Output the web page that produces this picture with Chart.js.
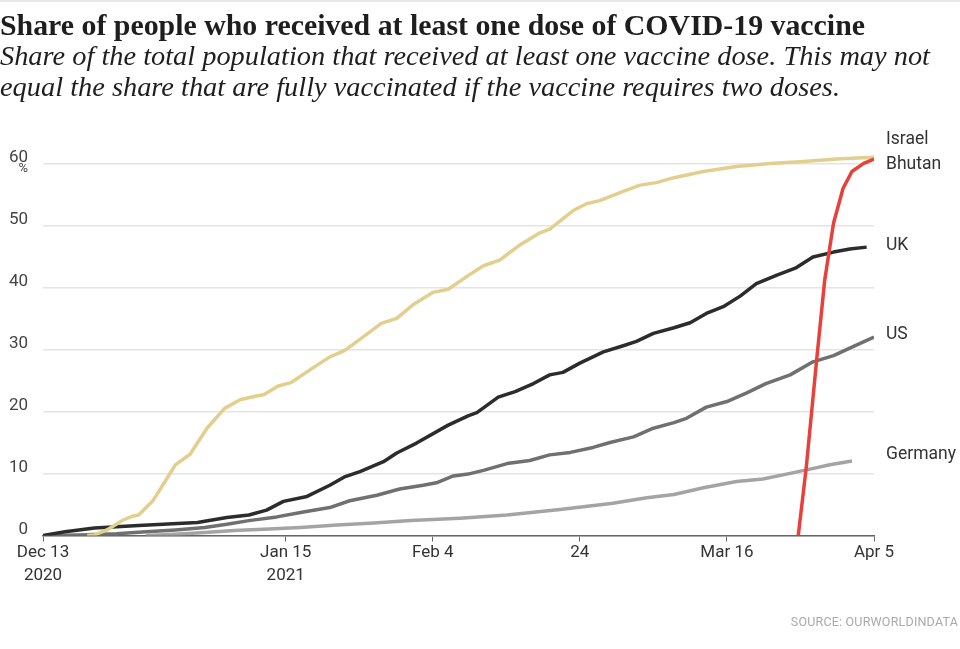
<!DOCTYPE html>
<html>
<head>
<meta charset="utf-8">
<title>Share of people who received at least one dose of COVID-19 vaccine</title>
<script src="https://cdn.jsdelivr.net/npm/chart.js@4.4.0/dist/chart.umd.min.js"></script>
<style>
  body { margin: 0; background: #fff; }
  #page { position: relative; width: 960px; height: 649px; overflow: hidden; }
  #topbar { position: absolute; left: 0; top: 0; width: 960px; height: 2px; background: #e8e8e8; }
  #mychart { position: absolute; left: 0; top: 0; }
  .head { position: absolute; left: 0; white-space: nowrap; color: #1e1e1e; font-family: "Liberation Serif", serif; transform-origin: 0 0; }
  #title { top: 10px; font-size: 30px; line-height: 30px; font-weight: bold; }
  .sub { font-size: 28px; line-height: 31.7px; font-style: italic; }
  #sub1 { top: 39.7px; }
  #sub2 { top: 71.4px; }
  #source { position: absolute; right: 2px; top: 614px; font-family: Roboto, sans-serif; font-size: 12.5px; color: #aaa; letter-spacing: 0.2px; }
</style>
</head>
<body>
<div id="page">
  <div id="topbar"></div>
  <canvas id="mychart" width="960" height="649"></canvas>
  <div id="title" class="head" data-w="865">Share of people who received at least one dose of COVID-19 vaccine</div>
  <div id="sub1" class="head sub" data-w="930">Share of the total population that received at least one vaccine dose. This may not</div>
  <div id="sub2" class="head sub" data-w="840">equal the share that are fully vaccinated if the vaccine requires two doses.</div>
  <div id="source">SOURCE: OURWORLDINDATA</div>
</div>

<script type="text/javascript">

	// days counted from Dec 13 2020, values in % of population
	const israelDays = [6, 7, 8.7, 10.9, 12.1, 13, 15, 16.6, 18, 20, 22.3, 24.7, 26.8, 29, 30, 32, 33.8, 36.3, 39, 41, 43.5, 46, 48.1, 50.3, 53, 55.1, 57.8, 59.9, 62.1, 64.9, 67.4, 68.9, 72.1, 73.9, 75.7, 78.9, 81.2, 83.4, 85.8, 89.8, 94.3, 98.9, 103.4, 107.9, 113];
	const israelShare = [0, 0.1, 0.9, 2.5, 3.1, 3.3, 5.7, 8.7, 11.4, 13.1, 17.3, 20.5, 21.9, 22.5, 22.7, 24.1, 24.7, 26.7, 28.8, 29.8, 32, 34.2, 35, 37.2, 39.2, 39.7, 41.9, 43.5, 44.4, 46.9, 48.7, 49.4, 52.4, 53.5, 54, 55.5, 56.5, 56.9, 57.7, 58.7, 59.5, 60, 60.3, 60.7, 61];

	const bhutanDays = [102.7, 103.8, 105.2, 106.3, 107.5, 108.8, 110, 111.6, 113];
	const bhutanShare = [0, 11.1, 28.3, 41.2, 50.4, 56, 58.7, 60, 60.7];

	const ukDays = [0, 3, 7, 13, 21, 25, 28, 30.4, 32.7, 35.9, 39, 41.1, 43.1, 46.3, 48.1, 50.8, 55.1, 57.8, 59, 61.9, 64.2, 66.7, 68.9, 70.7, 73, 76.2, 78.9, 80.7, 83, 85.8, 88, 90.2, 92.5, 94.8, 97, 99.8, 102.3, 104.7, 107.5, 109.7, 112];
	const ukShare = [0, 0.6, 1.2, 1.6, 2.1, 2.9, 3.3, 4.1, 5.5, 6.3, 8.1, 9.5, 10.3, 11.9, 13.3, 14.9, 17.8, 19.3, 19.8, 22.3, 23.2, 24.5, 25.9, 26.3, 27.8, 29.6, 30.6, 31.3, 32.6, 33.5, 34.3, 35.8, 36.9, 38.6, 40.6, 42, 43.1, 44.9, 45.7, 46.2, 46.5];

	const usDays = [1, 5, 10, 14, 18, 22, 25, 28, 31.8, 35.4, 39, 41.7, 45.4, 48.5, 51.7, 53.5, 55.8, 57.8, 59.9, 63.1, 66.2, 68.9, 71.7, 74.8, 77.1, 80.3, 83, 85.8, 87.5, 90.2, 93, 95.7, 98.3, 101.6, 104.7, 107.5, 109.7, 113];
	const usShare = [0, 0.1, 0.3, 0.6, 0.9, 1.3, 1.8, 2.4, 3, 3.8, 4.5, 5.6, 6.5, 7.5, 8.1, 8.5, 9.6, 9.9, 10.5, 11.6, 12.1, 13, 13.4, 14.2, 15, 15.9, 17.3, 18.2, 18.9, 20.7, 21.6, 23, 24.5, 25.9, 28, 29, 30.2, 32];

	const germanyDays = [14, 18, 22, 26, 30, 35, 40, 45, 50, 56.7, 63.1, 70.3, 77.5, 82.1, 85.8, 89.8, 94.3, 97.9, 101.1, 104.3, 107, 110];
	const germanyShare = [0, 0.2, 0.5, 0.8, 1, 1.3, 1.7, 2, 2.4, 2.8, 3.3, 4.2, 5.2, 6.1, 6.6, 7.7, 8.7, 9.1, 9.9, 10.7, 11.4, 12];

	const xTickDays = [0, 33, 53, 73, 93, 113];
	const xTickLabels = [['Dec 13', '2020'], ['Jan 15', '2021'], 'Feb 4', '24', 'Mar 16', 'Apr 5'];
	const yTickValues = [0, 10, 20, 30, 40, 50, 60];

	function toPoints(days, vals) {
		return days.map((d, i) => ({ x: d, y: vals[i] }));
	}

	// stretch the serif headings to the widths they have in the source layout
	document.querySelectorAll('.head').forEach(el => {
		const w = el.getBoundingClientRect().width;
		el.style.transform = 'scaleX(' + (parseFloat(el.dataset.w) / w) + ')';
	});

	const endLabels = {
		id: 'endLabels',
		afterDatasetsDraw(chart, args, opts) {
			const ctx = chart.ctx;
			const area = chart.chartArea;
			ctx.save();
			ctx.font = '17.5px Roboto';
			ctx.fillStyle = '#333';
			ctx.textBaseline = 'middle';
			ctx.textAlign = 'left';
			chart.data.datasets.forEach((ds, i) => {
				const pts = chart.getDatasetMeta(i).data;
				const last = pts[pts.length - 1];
				ctx.fillText(ds.label, area.right + 12, last.y + (opts.nudge[ds.label] || 0));
			});
			// unit under the top tick label
			const ys = chart.scales.y;
			ctx.font = '13px Roboto';
			ctx.fillStyle = '#444';
			ctx.textAlign = 'right';
			ctx.fillText('%', ys.right - 15, ys.getPixelForValue(60) + 5);
			ctx.restore();
		}
	};

	Chart.defaults.font.family = 'Roboto';
	Chart.defaults.color = '#444';

	const ctx = document.getElementById('mychart').getContext('2d');
	const myChart = new Chart(ctx, {
		type: 'line',
		data: {
			datasets: [
				{ label: 'Bhutan', data: toPoints(bhutanDays, bhutanShare), borderColor: '#e8403a' },
				{ label: 'Israel', data: toPoints(israelDays, israelShare), borderColor: '#e3cf8d' },
				{ label: 'UK', data: toPoints(ukDays, ukShare), borderColor: '#2c2c2c' },
				{ label: 'US', data: toPoints(usDays, usShare), borderColor: '#707070' },
				{ label: 'Germany', data: toPoints(germanyDays, germanyShare), borderColor: '#a4a4a4' }
			]
		},
		options: {
			responsive: false,
			animation: false,
			devicePixelRatio: 1,
			layout: { padding: { top: 151, right: 86, bottom: 53.5, left: 0 } },
			elements: {
				line: { borderWidth: 3.5, tension: 0, fill: false, borderJoinStyle: 'round', borderCapStyle: 'butt' },
				point: { radius: 0, hoverRadius: 0 }
			},
			plugins: {
				legend: { display: false },
				tooltip: { enabled: false },
				endLabels: { nudge: { Israel: -18, Bhutan: 6, UK: -2, US: -2, Germany: -6 } }
			},
			scales: {
				x: {
					type: 'linear',
					min: 0,
					max: 113,
					afterBuildTicks: scale => { scale.ticks = xTickDays.map(v => ({ value: v })); },
					afterFit: scale => { scale.height = 60; },
					grid: { drawOnChartArea: false, drawTicks: true, tickLength: 6, color: '#666', lineWidth: 1 },
					border: { display: true, color: '#666', width: 1.5 },
					ticks: {
						autoSkip: false,
						maxRotation: 0,
						padding: 0,
						color: '#333',
						font: { size: 17, lineHeight: 1.35 },
						callback: (v, i) => xTickLabels[i]
					}
				},
				y: {
					min: 0,
					max: 62,
					afterBuildTicks: scale => { scale.ticks = yTickValues.map(v => ({ value: v })); },
					afterFit: scale => { scale.width = 43; },
					grid: { drawTicks: false, color: '#e4e4e4', lineWidth: 1.5 },
					border: { display: false },
					ticks: {
						padding: 15,
						labelOffset: -6,
						color: '#444',
						font: { size: 17 },
						callback: v => String(v)
					}
				}
			}
		},
		plugins: [endLabels]
	});

</script>
</body>
</html>
